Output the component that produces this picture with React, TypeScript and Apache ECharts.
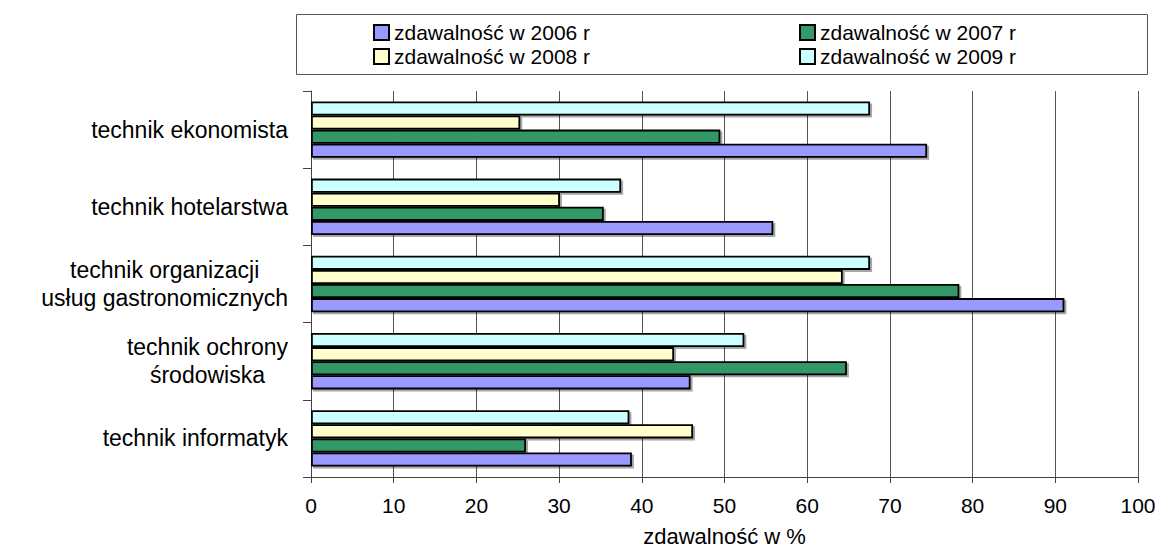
import React, { useEffect, useRef } from "react";
import * as echarts from "echarts";

const categories = [
  "technik ekonomista",
  "technik hotelarstwa",
  "technik organizacji\nusług gastronomicznych",
  "technik ochrony\nśrodowiska",
  "technik informatyk",
];
const seriesNames = [
  "zdawalność w 2006 r",
  "zdawalność w 2007 r",
  "zdawalność w 2008 r",
  "zdawalność w 2009 r",
];
const values2006 = [74.5, 55.9, 91.1, 45.9, 38.8];
const values2007 = [49.5, 35.4, 78.4, 64.8, 26.0];
const values2008 = [25.3, 30.1, 64.3, 43.9, 46.2];
const values2009 = [67.6, 37.5, 67.6, 52.4, 38.5];
const xMin = 0;
const xMax = 100;
const xInterval = 10;
const xAxisName = "zdawalność w %";

const FONT = "'Liberation Sans', Arial, sans-serif";

export default function App() {
  const ref = useRef<HTMLDivElement>(null);
  useEffect(() => {
    document.body.style.margin = "0";
    document.body.style.overflow = "hidden";
    if (!ref.current) return;
    const chart = echarts.init(ref.current, undefined, { renderer: "svg" });
    const colors = ["#9999FF", "#339966", "#FFFFCC", "#CCFFFF"];
    const dataSets = [values2006, values2007, values2008, values2009];
    const legendText = {
      fontSize: 21,
      fontFamily: FONT,
      color: "#000",
      width: 240,
      lineHeight: 20,
    };
    const legendBase = {
      left: 373,
      orient: "horizontal",
      itemWidth: 15,
      itemHeight: 15,
      itemGap: 165,
      itemTextGap: 8,
      padding: 0,
      icon: "rect",
      textStyle: legendText,
    };
    const order = [3, 2, 1, 0];
    const option: any = {
      animation: false,
      backgroundColor: "#fff",
      grid: { left: 311, right: 21, top: 91, bottom: 77, containLabel: false },
      legend: [
        { ...legendBase, data: [seriesNames[0], seriesNames[1]], top: 22 },
        { ...legendBase, data: [seriesNames[2], seriesNames[3]], top: 46 },
      ],
      graphic: [
        {
          type: "rect",
          shape: { x: 296.5, y: 14.5, width: 851, height: 60 },
          style: { fill: "none", stroke: "#555", lineWidth: 1 },
          silent: true,
        },
      ],
      xAxis: {
        type: "value",
        min: xMin,
        max: xMax,
        interval: xInterval,
        name: xAxisName,
        nameLocation: "middle",
        nameGap: 48,
        nameTextStyle: { fontSize: 22, fontFamily: FONT, color: "#000" },
        axisLine: { show: true, lineStyle: { color: "#444", width: 1 } },
        axisTick: { show: true, length: 6, lineStyle: { color: "#444" } },
        axisLabel: { fontSize: 21, fontFamily: FONT, color: "#000", margin: 18 },
        splitLine: { show: true, lineStyle: { color: "#555", width: 1 } },
      },
      yAxis: {
        type: "category",
        data: categories,
        inverse: true,
        axisLine: { show: true, lineStyle: { color: "#444", width: 1 } },
        axisTick: { show: true, length: 8, alignWithLabel: false, lineStyle: { color: "#444" } },
        axisLabel: {
          margin: 23,
          fontSize: 23,
          fontFamily: FONT,
          color: "#000",
          lineHeight: 28,
          formatter: (v: string) =>
            v
              .split("\n")
              .map((l) => "{c|" + l + "}")
              .join("\n"),
          rich: {
            c: { align: "center", fontSize: 23, fontFamily: FONT, color: "#000", lineHeight: 28 },
          },
        },
        splitLine: { show: false },
      },
      series: order.map((i) => ({
        name: seriesNames[i],
        type: "bar",
        data: dataSets[i],
        barGap: "0%",
        barCategoryGap: "27%",
        itemStyle: {
          color: colors[i],
          borderColor: "#000",
          borderWidth: 1.8,
          shadowColor: "rgba(0,0,0,0.35)",
          shadowOffsetX: 2,
          shadowOffsetY: 2,
          shadowBlur: 0,
        },
      })),
    };
    chart.setOption(option);
    return () => chart.dispose();
  }, []);
  return <div ref={ref} style={{ width: 1159, height: 554 }} />;
}
